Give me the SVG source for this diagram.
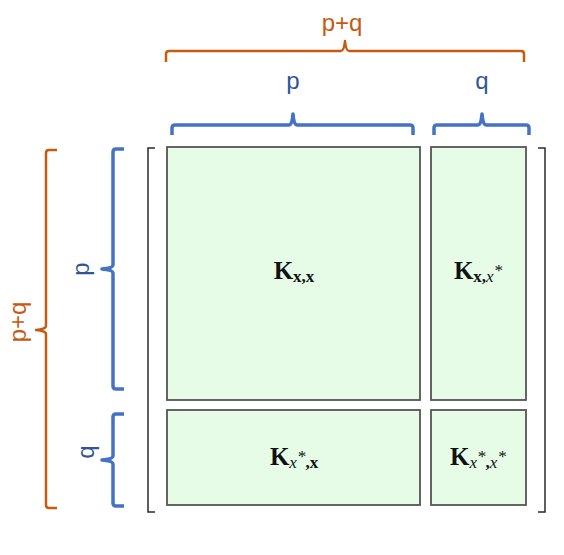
<svg xmlns="http://www.w3.org/2000/svg" width="564" height="555" viewBox="0 0 564 555">
<style>
.ob{fill:none;stroke:#C55A11;stroke-width:2.5;stroke-linejoin:round}
.bb{fill:none;stroke:#4472C4;stroke-width:3.5;stroke-linejoin:round}
.ol{font-family:"Liberation Sans",Arial,sans-serif;font-size:24px;fill:#C55A11;text-anchor:middle}
.bl{font-family:"Liberation Sans",Arial,sans-serif;font-size:24px;fill:#2F5597;text-anchor:middle}
.box{fill:#E6FCE6;stroke:#555;stroke-width:1.8}
.mb{fill:none;stroke:#2a2a2a;stroke-width:1.5}
.k{font-family:"Liberation Serif","Times New Roman",serif;font-size:25px;font-weight:bold;fill:#111;text-anchor:middle}
.s{font-size:17px}
.i{font-style:italic;font-weight:normal}
</style>
<g id="connectors">
<path id="brace-top-pq" class="ob" d="M166,62 V54 Q166,51 169,51 H341 Q344,51 345,41 Q346,51 349,51 H521 Q524,51 524,54 V62"/>
<path id="brace-top-p" class="bb" d="M172,135 V128 Q172,125 175,125 H289 Q292,125 293,114 Q294,125 297,125 H410 Q413,125 413,128 V135"/>
<path id="brace-top-q" class="bb" d="M434,135 V128 Q434,125 437,125 H478 Q481,125 482,114 Q483,125 486,125 H526 Q529,125 529,128 V135"/>
<path id="brace-left-pq" class="ob" d="M57,150 H49 Q46,150 46,153 V326 Q46,329 36,330 Q46,331 46,334 V505 Q46,508 49,508 H57"/>
<path id="brace-left-p" class="bb" d="M124,149 H116 Q113,149 113,152 V265 Q113,268 102,269 Q113,270 113,273 V386 Q113,389 116,389 H124"/>
<path id="brace-left-q" class="bb" d="M124,414 H116 Q113,414 113,417 V456 Q113,459 102,460 Q113,461 113,464 V503 Q113,506 116,506 H124"/>
</g>
<g id="matrix-brackets">
<path class="mb" d="M155,148 H148 V512 H155"/>
<path class="mb" d="M538,148 H545 V512 H538"/>
</g>
<g id="label-top-pq"><text class="ol" x="342" y="31">p+q</text></g>
<g id="label-top-p"><text class="bl" x="293" y="89">p</text></g>
<g id="label-top-q"><text class="bl" x="482" y="89">q</text></g>
<g id="label-left-pq"><text class="ol" transform="translate(26,322) rotate(-90)">p+q</text></g>
<g id="label-left-p"><text class="bl" transform="translate(89,269) rotate(-90)">p</text></g>
<g id="label-left-q"><text class="bl" transform="translate(94,452) rotate(-90)">q</text></g>
<g id="node-Kxx">
<rect class="box" x="167" y="147" width="253" height="253"/>
<text class="k" x="294" y="279">K<tspan class="s" dy="3">x,x</tspan></text>
</g>
<g id="node-Kxxs">
<rect class="box" x="431" y="147" width="95" height="253"/>
<text class="k" x="478" y="279">K<tspan class="s" dy="3">x,<tspan class="i">x</tspan></tspan><tspan class="s i" dy="-6" font-size="11">*</tspan></text>
</g>
<g id="node-Kxsx">
<rect class="box" x="167" y="410" width="253" height="95"/>
<text class="k" x="294" y="465">K<tspan class="s i" dy="3">x</tspan><tspan class="s i" dy="-6" font-size="11">*</tspan><tspan class="s" dy="6">,x</tspan></text>
</g>
<g id="node-Kxsxs">
<rect class="box" x="431" y="410" width="95" height="95"/>
<text class="k" x="478" y="465">K<tspan class="s i" dy="3">x</tspan><tspan class="s i" dy="-6" font-size="11">*</tspan><tspan class="s" dy="6">,</tspan><tspan class="s i">x</tspan><tspan class="s i" dy="-6" font-size="11">*</tspan></text>
</g>
</svg>
